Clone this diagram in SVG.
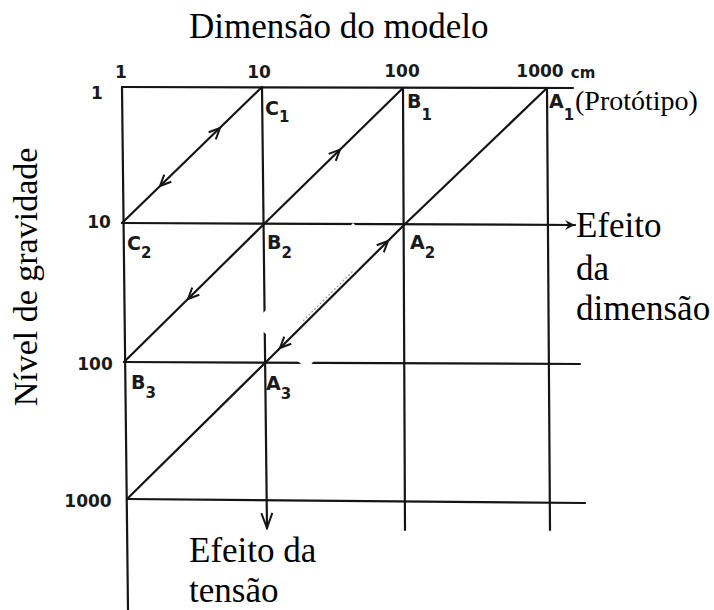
<svg xmlns="http://www.w3.org/2000/svg" width="714" height="610" viewBox="0 0 714 610">
<defs>
<style>
.ln{fill:none;stroke:#151515;stroke-width:2.2;stroke-linecap:round}
.serif{font-family:"Liberation Serif","Times New Roman",serif;fill:#000}
.lab{font-family:"DejaVu Sans","Liberation Sans",sans-serif;fill:#1a1a1a;font-size:19px;font-weight:bold}
.sub{font-size:15px}
.num{font-family:"DejaVu Sans","Liberation Sans",sans-serif;fill:#1a1a1a;font-size:17px;font-weight:bold;text-anchor:middle}
.seg{fill:none;stroke:none}
</style>
<marker id="chev" viewBox="-13 -7 15 14" refX="0" refY="0" markerWidth="15" markerHeight="14" markerUnits="userSpaceOnUse" orient="auto">
<path d="M-11,-5 L0,0 L-11,5" fill="none" stroke="#151515" stroke-width="2"/>
</marker>
<marker id="tip" viewBox="-12 -7 14 14" refX="0" refY="0" markerWidth="14" markerHeight="14" markerUnits="userSpaceOnUse" orient="auto">
<path d="M0,0 L-10,-5 L-6.5,0 L-10,5 Z" fill="#151515"/>
</marker>
<marker id="down" viewBox="-17 -7 19 14" refX="0" refY="0" markerWidth="19" markerHeight="14" markerUnits="userSpaceOnUse" orient="auto">
<path d="M-15,-5.5 L0,0 L-15,5.5" fill="none" stroke="#151515" stroke-width="2"/>
</marker>
</defs>
<rect width="714" height="610" fill="#fff"/>

<g id="grid">
<path class="ln" d="M122,87 L128,610"/>
<path class="ln" d="M262,87 L267,528" marker-end="url(#down)"/>
<path class="ln" d="M403,88 L405,530"/>
<path class="ln" d="M547,88 L550,530"/>
<path class="ln" d="M122,87 L573,88"/>
<path class="ln" d="M122,223 L575,225" marker-end="url(#tip)"/>
<path class="ln" d="M124,362 L580,364"/>
<path class="ln" d="M127,499 L585,503"/>
</g>

<polygon id="erasure" points="253,323 353,223 398,265 307,369" fill="#fff"/>

<g id="connectors">
<path class="ln" d="M122,223 L262,87"/>
<path class="ln" d="M264,224 L403,88"/>
<path class="ln" d="M404,225 L547,88"/>
<path class="ln" d="M124,362 L264,224"/>
<path class="ln" d="M265,363 L404,225"/>
<path class="ln" d="M127,499 L265,363"/>
<path d="M303,321 L353,271" fill="none" stroke="#9a9a9a" stroke-width="1.2" stroke-dasharray="2 2"/>
<path class="seg" d="M214,134 L220,128" marker-end="url(#chev)"/>
<path class="seg" d="M166,180 L160,186" marker-end="url(#chev)"/>
<path class="seg" d="M334,155.6 L340,149.6" marker-end="url(#chev)"/>
<path class="seg" d="M194,293 L188,299" marker-end="url(#chev)"/>
<path class="seg" d="M382,247 L388,241" marker-end="url(#chev)"/>
<path class="seg" d="M286,342 L280,348" marker-end="url(#chev)"/>
</g>

<g id="C1"><text class="lab" x="265" y="115">C<tspan class="sub" dy="7">1</tspan></text></g>
<g id="C2"><text class="lab" x="127" y="250">C<tspan class="sub" dy="8">2</tspan></text></g>
<g id="B1"><text class="lab" x="407" y="108">B<tspan class="sub" dy="12">1</tspan></text></g>
<g id="B2"><text class="lab" x="267" y="249">B<tspan class="sub" dy="9">2</tspan></text></g>
<g id="A1"><text class="lab" x="549" y="108">A<tspan class="sub" dy="12">1</tspan></text></g>
<g id="A2"><text class="lab" x="410" y="249">A<tspan class="sub" dy="9">2</tspan></text></g>
<g id="B3"><text class="lab" x="131" y="389">B<tspan class="sub" dy="9">3</tspan></text></g>
<g id="A3"><text class="lab" x="266" y="390">A<tspan class="sub" dy="9">3</tspan></text></g>

<g id="top-axis">
<text class="num" x="121" y="78">1</text>
<text class="num" x="259" y="78">10</text>
<text class="num" x="402" y="77">100</text>
<text class="num" x="540" y="77">1000</text>
<text class="num" x="583" y="78" style="font-size:15px">cm</text>
</g>
<g id="left-axis">
<text class="num" x="97" y="99">1</text>
<text class="num" x="99" y="228">10</text>
<text class="num" x="95" y="370">100</text>
<text class="num" x="88" y="507">1000</text>
</g>

<g id="titles">
<text class="serif" x="189" y="38" style="font-size:35px">Dimensão do modelo</text>
<text class="serif" x="575" y="110" style="font-size:28px">(Protótipo)</text>
<text class="serif" x="576" y="237" style="font-size:35px">Efeito</text>
<text class="serif" x="576" y="280" style="font-size:35px">da</text>
<text class="serif" x="576" y="320" style="font-size:35px">dimensão</text>
<text class="serif" x="189" y="562" style="font-size:35px">Efeito da</text>
<text class="serif" x="189" y="602" style="font-size:35px">tensão</text>
<text class="serif" transform="translate(37,277) rotate(-90)" text-anchor="middle" style="font-size:34px">Nível de gravidade</text>
</g>
</svg>
